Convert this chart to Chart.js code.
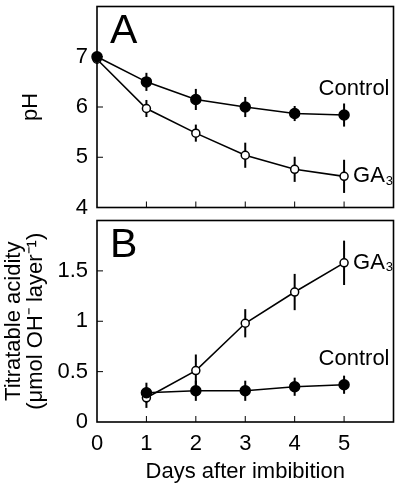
<!DOCTYPE html>
<html>
<head>
<meta charset="utf-8">
<script src="https://cdn.jsdelivr.net/npm/chart.js@4.4.1/dist/chart.umd.min.js"></script>
<style>
    html, body { margin: 0; padding: 0; background: #fff; }
    #wrap { position: relative; width: 400px; height: 486px; }
    #box_a { position: absolute; left: 0; top: 0; width: 400px; height: 214px; }
    #box_b { position: absolute; left: 0; top: 214px; width: 400px; height: 272px; }
</style>
</head>
<body>
<div id="wrap">
    <div id="box_a"><canvas id="chart_a"></canvas></div>
    <div id="box_b"><canvas id="chart_b"></canvas></div>
</div>
<script>
// days after imbibition
const days = [0, 1, 2, 3, 4, 5]
const dayLabels = [0, 1, 2, 3, 4, 5]

// panel A - pH
const phTicks = [4, 5, 6, 7]
const phControl = [7.0, 6.5, 6.15, 6.0, 5.87, 5.84]
const phControlErr = [0, 0.18, 0.21, 0.2, 0.15, 0.23]
const phGA3 = [6.95, 5.97, 5.48, 5.04, 4.76, 4.62]
const phGA3Err = [0, 0.17, 0.17, 0.25, 0.25, 0.33]

// panel B - titratable acidity (no value at day 0)
const acidTicks = [0, 0.5, 1, 1.5]
const acidControl = [null, 0.29, 0.31, 0.31, 0.35, 0.37]
const acidControlErr = [0, 0.1, 0.1, 0.1, 0.09, 0.09]
const acidGA3 = [null, 0.24, 0.51, 0.98, 1.29, 1.58]
const acidGA3Err = [0, 0.1, 0.16, 0.14, 0.18, 0.22]

const FONT = "'Liberation Sans', Arial, Helvetica, sans-serif"
Chart.defaults.font.family = FONT
Chart.defaults.color = '#000'

const app = {
    toPoints: function (values){
        let pts = []
        for (let i = 0; i < days.length; i++){
            if (values[i] !== null) pts.push({x: days[i], y: values[i]})
        }
        return pts
    },
    dataset: function (label, values, errors, filled){
        return {
            label: label,
            data: app.toPoints(values),
            errors: errors.filter((e, i) => values[i] !== null),
            borderColor: '#000',
            borderWidth: 1.6,
            pointRadius: filled ? 5 : 4,
            pointBackgroundColor: filled ? '#000' : '#fff',
            pointBorderColor: '#000',
            pointBorderWidth: 1.5,
            tension: 0,
            clip: false
        }
    },
    noPadding: function (s){
        s.paddingTop = 0
        s.paddingBottom = 0
        s.paddingLeft = 0
        s.paddingRight = 0
    },
    drawLabel: function (ctx, text, sub, x, y, align){
        ctx.font = '22px ' + FONT
        let w = ctx.measureText(text).width
        ctx.font = '13px ' + FONT
        let sw = sub ? ctx.measureText(sub).width + 1 : 0
        let x0 = align === 'right' ? x - w - sw : x
        ctx.textAlign = 'left'
        ctx.textBaseline = 'middle'
        ctx.font = '22px ' + FONT
        ctx.fillText(text, x0, y)
        if (sub){
            ctx.font = '13px ' + FONT
            ctx.fillText(sub, x0 + w + 1, y + 5)
        }
    },
    panelPlugin: {
        id: 'panel',
        beforeDatasetsDraw: function (chart){
            const ctx = chart.ctx
            const xs = chart.scales.x, ys = chart.scales.y
            ctx.save()
            ctx.strokeStyle = '#000'
            ctx.lineWidth = 2
            chart.data.datasets.forEach(ds => {
                ds.data.forEach((p, i) => {
                    let e = ds.errors[i]
                    if (!e) return
                    let px = xs.getPixelForValue(p.x)
                    ctx.beginPath()
                    ctx.moveTo(px, ys.getPixelForValue(p.y - e))
                    ctx.lineTo(px, ys.getPixelForValue(p.y + e))
                    ctx.stroke()
                })
            })
            ctx.restore()
        },
        afterDraw: function (chart, args, opts){
            const ctx = chart.ctx
            const a = chart.chartArea
            const xs = chart.scales.x, ys = chart.scales.y
            ctx.save()
            ctx.strokeStyle = '#000'
            ctx.lineWidth = 1.6
            ctx.strokeRect(a.left, a.top, a.right - a.left, a.bottom - a.top)
            // inward tick marks
            ctx.lineWidth = 1
            ctx.beginPath()
            dayLabels.forEach(d => {
                let px = xs.getPixelForValue(d)
                if (px <= a.left + 1 || px >= a.right - 1) return
                ctx.moveTo(px, a.bottom)
                ctx.lineTo(px, a.bottom - 6)
            })
            opts.yTicks.forEach(v => {
                let py = ys.getPixelForValue(v)
                if (py >= a.bottom - 1 || py <= a.top + 1) return
                ctx.moveTo(a.left, py)
                ctx.lineTo(a.left + 6, py)
            })
            ctx.stroke()
            // panel letter
            ctx.fillStyle = '#000'
            ctx.font = '41px ' + FONT
            ctx.textAlign = 'left'
            ctx.textBaseline = 'alphabetic'
            ctx.fillText(opts.letter, a.left + 13, a.top + 36)
            // series labels next to the last points
            const ctrl = chart.data.datasets[0].data.slice(-1)[0]
            const ga = chart.data.datasets[1].data.slice(-1)[0]
            app.drawLabel(ctx, 'Control', '', a.right - 4, ys.getPixelForValue(ctrl.y) - 26, 'right')
            app.drawLabel(ctx, 'GA', '3', xs.getPixelForValue(ga.x) + 9, ys.getPixelForValue(ga.y), 'left')
            ctx.restore()
        }
    },
    makeChart: function (canvasId, cfg){
        return new Chart($(canvasId).getContext('2d'), {
            type: 'line',
            data: {
                datasets: [
                    app.dataset('Control', cfg.control, cfg.controlErr, true),
                    app.dataset('GA3', cfg.ga3, cfg.ga3Err, false)
                ]
            },
            options: {
                responsive: true,
                maintainAspectRatio: false,
                animation: false,
                events: [],
                layout: { padding: { top: cfg.padTop, right: 5, left: 0, bottom: 0 } },
                plugins: {
                    legend: { display: false },
                    tooltip: { enabled: false },
                    panel: { letter: cfg.letter, yTicks: cfg.yTicks }
                },
                scales: {
                    x: {
                        type: 'linear',
                        min: 0,
                        max: 6,
                        afterBuildTicks: s => { s.ticks = dayLabels.map(v => ({value: v})) },
                        afterFit: s => { s.height = cfg.xHeight; app.noPadding(s) },
                        grid: { display: false, drawTicks: false },
                        border: { display: false },
                        ticks: { display: cfg.showX, padding: 9, font: { size: 22 }, callback: v => String(v) },
                        title: {
                            display: cfg.showX,
                            text: 'Days after imbibition',
                            font: { size: 22 },
                            padding: { top: 0, bottom: 1 }
                        }
                    },
                    y: {
                        min: cfg.yMin,
                        max: cfg.yMax,
                        afterBuildTicks: s => { s.ticks = cfg.yTicks.map(v => ({value: v})) },
                        afterFit: s => { s.width = 97; app.noPadding(s) },
                        grid: { display: false, drawTicks: false },
                        border: { display: false },
                        ticks: { padding: 9, font: { size: 22 }, callback: v => String(v) },
                        title: {
                            display: true,
                            text: cfg.yTitle,
                            font: { size: 22, lineHeight: cfg.titleLH },
                            padding: { top: cfg.titlePad, bottom: 0 }
                        }
                    }
                }
            },
            plugins: [app.panelPlugin]
        })
    },
    run: function (){
        app.makeChart('chart_a', {
            control: phControl, controlErr: phControlErr,
            ga3: phGA3, ga3Err: phGA3Err,
            yMin: 4, yMax: 8, yTicks: phTicks,
            yTitle: 'pH', titleLH: 1.2, titlePad: 18,
            letter: 'A', padTop: 4, xHeight: 6, showX: false
        })
        app.makeChart('chart_b', {
            control: acidControl, controlErr: acidControlErr,
            ga3: acidGA3, ga3Err: acidGA3Err,
            yMin: 0, yMax: 2, yTicks: acidTicks,
            yTitle: ['Titratable acidity', '(\u03bcmol OH\u207b layer\u207b\u00b9)'], titleLH: 1.0, titlePad: 3,
            letter: 'B', padTop: 3, xHeight: 64, showX: true
        })
    }
}

function $(id){ return document.getElementById(id) }

app.run()
</script>
</body>
</html>
